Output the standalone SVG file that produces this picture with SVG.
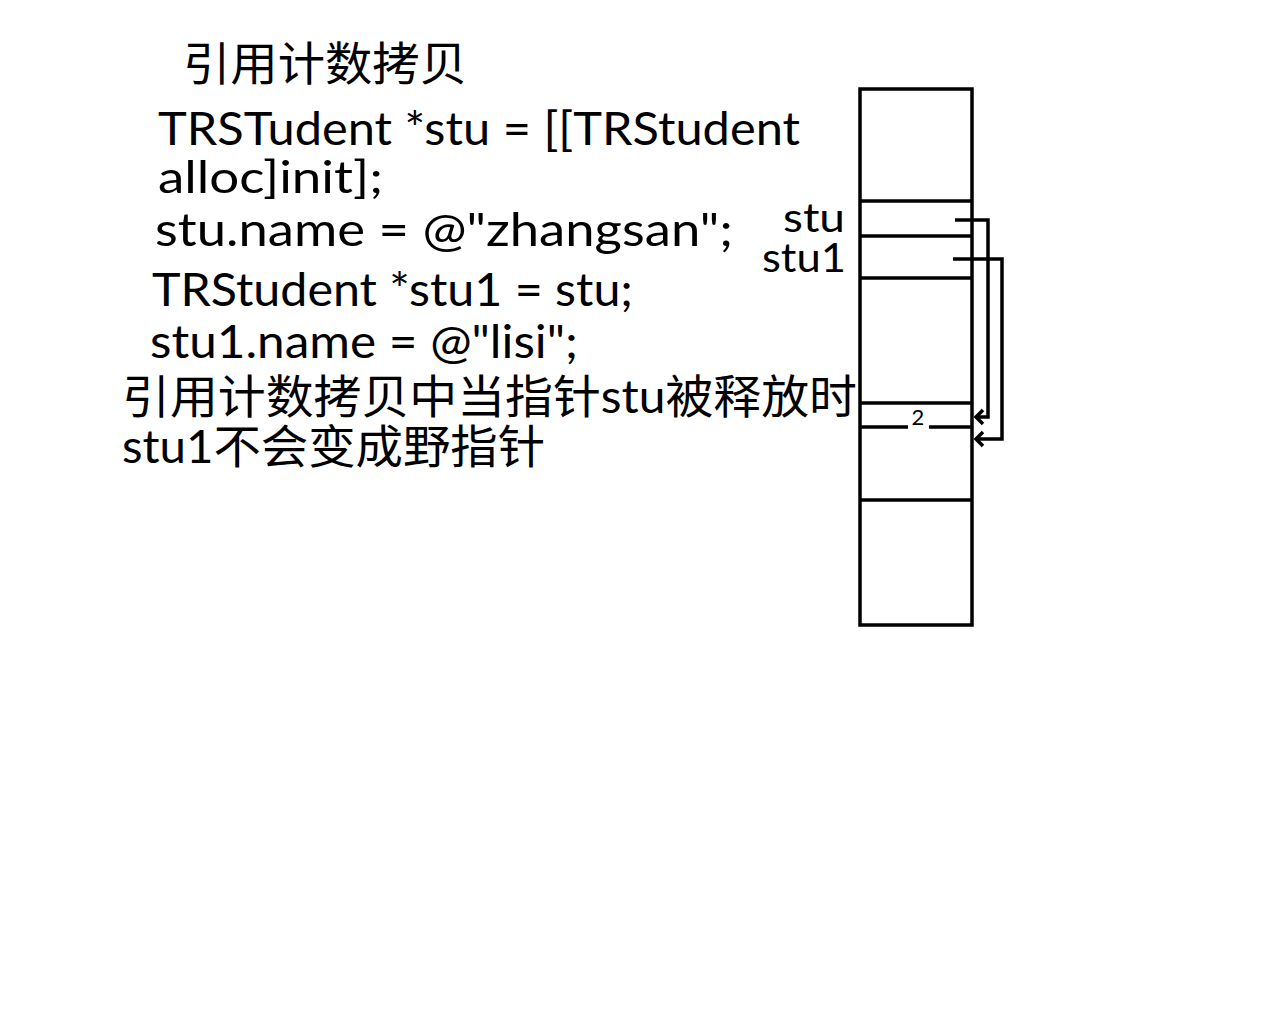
<svg xmlns="http://www.w3.org/2000/svg" width="1280" height="1024" viewBox="0 0 1280 1024">
<style>
.t{font-family:"Lato","Liberation Sans","Noto Sans CJK SC",sans-serif;fill:#000;font-size:46px}
.s{font-size:44px}
.c{font-family:"Noto Sans CJK SC",sans-serif;fill:#000}
.ln{stroke:#000;stroke-width:3.5;fill:none}
.ar{stroke:#000;stroke-width:3.5;fill:none;marker-end:url(#chev)}
</style>
<defs>
<marker id="chev" markerUnits="userSpaceOnUse" markerWidth="16" markerHeight="20" refX="11" refY="10" orient="auto" viewBox="0 0 16 20">
<path d="M4,3 L11,10 L4,17" stroke="#000" stroke-width="3.5" fill="none"/>
</marker>
</defs>
<rect width="1280" height="1024" fill="#fff"/>
<g id="title"><text class="c" x="183" y="80" font-size="46" textLength="284" lengthAdjust="spacingAndGlyphs">引用计数拷贝</text></g>
<g id="code">
<text class="t" x="158" y="145" textLength="642" lengthAdjust="spacingAndGlyphs">TRSTudent *stu = [[TRStudent</text>
<text class="t s" x="158" y="193" textLength="225" lengthAdjust="spacingAndGlyphs">alloc]init];</text>
<text class="t" x="155" y="246" textLength="578" lengthAdjust="spacingAndGlyphs">stu.name = @"zhangsan";</text>
<text class="t" x="152" y="306" textLength="481" lengthAdjust="spacingAndGlyphs">TRStudent *stu1 = stu;</text>
<text class="t" x="150" y="358" textLength="428" lengthAdjust="spacingAndGlyphs">stu1.name = @"lisi";</text>
</g>
<g id="note">
<text class="t" x="122" y="413" textLength="735" lengthAdjust="spacingAndGlyphs">引用计数拷贝中当指针stu被释放时</text>
<text class="t" x="122" y="463" textLength="423" lengthAdjust="spacingAndGlyphs">stu1不会变成野指针</text>
</g>
<g id="memory">
<rect class="ln" x="860" y="89" width="112" height="536"/>
<line class="ln" x1="860" y1="201" x2="972" y2="201"/>
<line class="ln" x1="860" y1="236" x2="972" y2="236"/>
<line class="ln" x1="860" y1="278" x2="972" y2="278"/>
<line class="ln" x1="860" y1="403" x2="972" y2="403"/>
<line class="ln" x1="860" y1="427" x2="908" y2="427"/>
<line class="ln" x1="929" y1="427" x2="972" y2="427"/>
<line class="ln" x1="860" y1="500" x2="972" y2="500"/>
<text x="918" y="425" font-family="Lato, 'Liberation Sans', sans-serif" font-size="22" text-anchor="middle">2</text>
</g>
<g id="labels">
<text class="t" x="845" y="232" text-anchor="end" textLength="62" lengthAdjust="spacingAndGlyphs" style="font-size:40px">stu</text>
<text class="t" x="846" y="272" text-anchor="end" textLength="84" lengthAdjust="spacingAndGlyphs" style="font-size:40px">stu1</text>
</g>
<g id="connectors">
<path class="ar" d="M955,220 H988 V417 H976"/>
<path class="ar" d="M953,259 H1002 V439 H976"/>
</g>
</svg>
